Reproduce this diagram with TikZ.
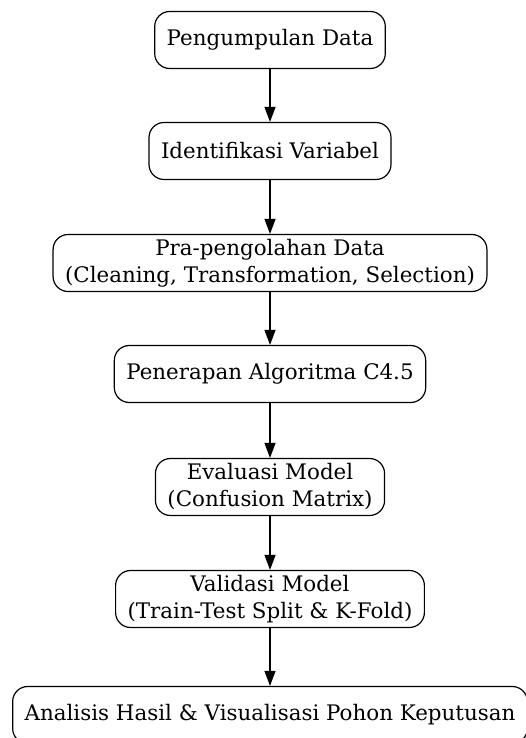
\documentclass[tikz,border=0pt]{standalone}
\usepackage{fontspec}
\setmainfont{DejaVu Serif}
\usetikzlibrary{arrows.meta}
\tikzset{
  stepbox/.style={draw,line width=1.2pt,rounded corners=15pt,align=center,
    inner xsep=12pt,minimum height=57pt,font=\fontsize{21.4}{27}\selectfont},
  flow/.style={-{Triangle[length=15pt,width=11pt]},line width=1.2pt}
}
\begin{document}
\begin{tikzpicture}[x=1pt,y=-1pt]
  \useasboundingbox (0,0) rectangle (525,738);
  \node [stepbox] (kumpul) at (270,40) {Pengumpulan Data};
  \node [stepbox] (ident) at (270,151) {Identifikasi Variabel};
  \node [stepbox] (pra) at (270,263) {Pra-pengolahan Data\\(Cleaning, Transformation, Selection)};
  \node [stepbox] (c45) at (270,374) {Penerapan Algoritma C4.5};
  \node [stepbox] (eval) at (270,487) {Evaluasi Model\\(Confusion Matrix)};
  \node [stepbox] (valid) at (270,599) {Validasi Model\\(Train-Test Split \& K-Fold)};
  \node [stepbox] (hasil) at (270,715) {Analisis Hasil \& Visualisasi Pohon Keputusan};
  \foreach \a/\b in {kumpul/ident,ident/pra,pra/c45,c45/eval,eval/valid,valid/hasil}
    \draw [flow] (\a) -- (\b);
\end{tikzpicture}
\end{document}
